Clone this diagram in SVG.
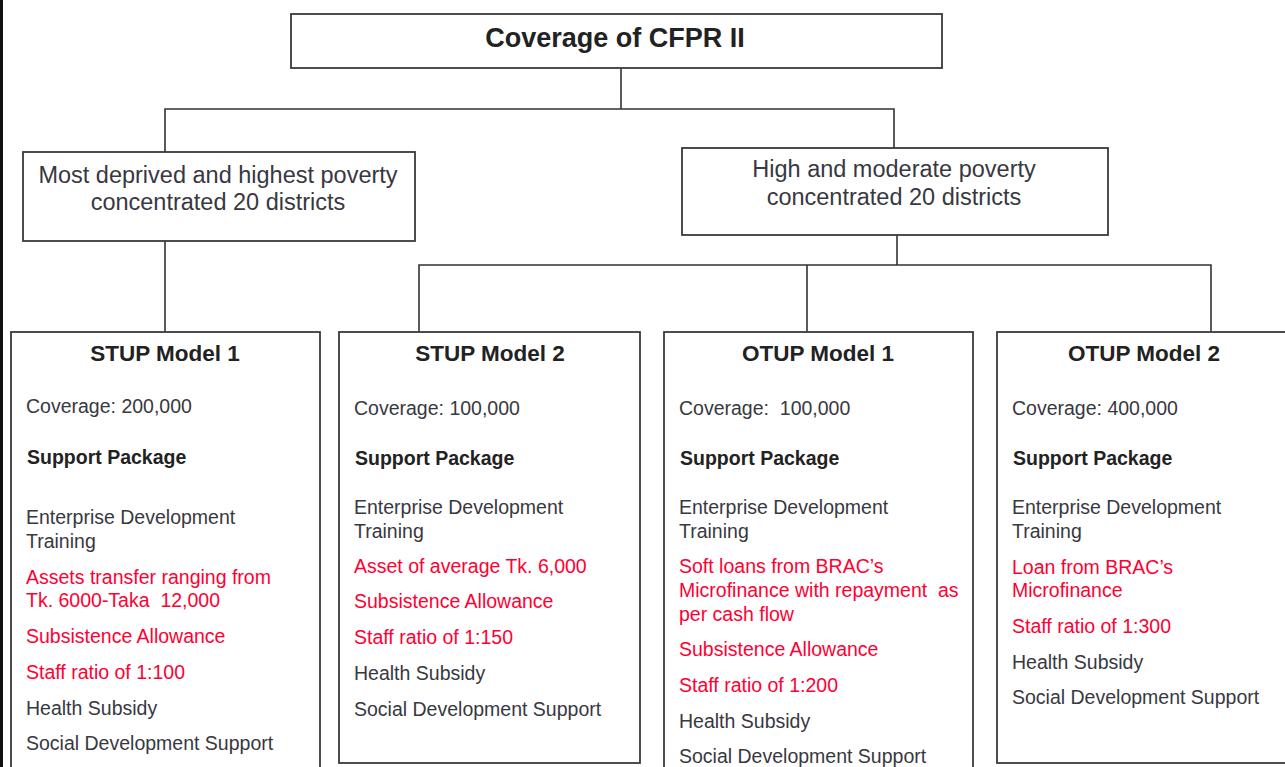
<svg xmlns="http://www.w3.org/2000/svg" width="1285" height="767" viewBox="0 0 1285 767">
<style>
.box{fill:#fff;stroke:#3a3a3a;stroke-width:1.8}
.con{fill:none;stroke:#333;stroke-width:1.6}
text{font-family:"Liberation Sans",Arial,sans-serif;fill:#38383f}
.title{font-size:27px;font-weight:bold;text-anchor:middle;fill:#222}
.mid{font-size:23.5px;text-anchor:middle}
.head{font-size:22.5px;font-weight:bold;text-anchor:middle;fill:#222}
.sp{font-size:19.5px;font-weight:bold;fill:#222}
.t{font-size:19.5px}
.r{fill:#ff0033}
</style>
<rect x="0" y="0" width="1285" height="767" fill="#fff"/>
<line x1="1.5" y1="0" x2="1.5" y2="767" stroke="#111" stroke-width="3"/>
<g id="connectors">
<path class="con" d="M621 68V109M165 152V109H894V148"/>
<path class="con" d="M165 241V332"/>
<path class="con" d="M897 235V265M419 332V265H1211V332M807 265V332"/>
</g>
<g id="root">
<rect class="box" x="291" y="14" width="651" height="54"/>
<text class="title" x="615" y="47">Coverage of CFPR II</text>
</g>
<g id="most-deprived">
<rect class="box" x="23" y="152" width="392" height="89"/>
<text class="mid" x="218" y="183">Most deprived and highest poverty</text>
<text class="mid" x="218" y="210">concentrated 20 districts</text>
</g>
<g id="high-moderate">
<rect class="box" x="682" y="148" width="426" height="87"/>
<text class="mid" x="894" y="177">High and moderate poverty</text>
<text class="mid" x="894" y="205">concentrated 20 districts</text>
</g>
<g id="stup1">
<rect class="box" x="11" y="332" width="309" height="450"/>
<text class="head" x="165" y="361">STUP Model 1</text>
<text class="t" x="26" y="413">Coverage: 200,000</text>
<text class="sp" x="27" y="464">Support Package</text>
<text class="t" x="26" y="524">Enterprise Development</text>
<text class="t" x="26" y="548">Training</text>
<text class="t r" x="26" y="584">Assets transfer ranging from</text>
<text class="t r" x="26" y="607" xml:space="preserve">Tk. 6000-Taka  12,000</text>
<text class="t r" x="26" y="643">Subsistence Allowance</text>
<text class="t r" x="26" y="679">Staff ratio of 1:100</text>
<text class="t" x="26" y="715">Health Subsidy</text>
<text class="t" x="26" y="750">Social Development Support</text>
</g>
<g id="stup2">
<rect class="box" x="339" y="332" width="301" height="431"/>
<text class="head" x="490" y="361">STUP Model 2</text>
<text class="t" x="354" y="415">Coverage: 100,000</text>
<text class="sp" x="355" y="465">Support Package</text>
<text class="t" x="354" y="514">Enterprise Development</text>
<text class="t" x="354" y="538">Training</text>
<text class="t r" x="354" y="573">Asset of average Tk. 6,000</text>
<text class="t r" x="354" y="608">Subsistence Allowance</text>
<text class="t r" x="354" y="644">Staff ratio of 1:150</text>
<text class="t" x="354" y="680">Health Subsidy</text>
<text class="t" x="354" y="716">Social Development Support</text>
</g>
<g id="otup1">
<rect class="box" x="664" y="332" width="309" height="450"/>
<text class="head" x="818" y="361">OTUP Model 1</text>
<text class="t" x="679" y="415" xml:space="preserve">Coverage:  100,000</text>
<text class="sp" x="680" y="465">Support Package</text>
<text class="t" x="679" y="514">Enterprise Development</text>
<text class="t" x="679" y="538">Training</text>
<text class="t r" x="679" y="573">Soft loans from BRAC’s</text>
<text class="t r" x="679" y="597" xml:space="preserve">Microfinance with repayment  as</text>
<text class="t r" x="679" y="621">per cash flow</text>
<text class="t r" x="679" y="656">Subsistence Allowance</text>
<text class="t r" x="679" y="692">Staff ratio of 1:200</text>
<text class="t" x="679" y="728">Health Subsidy</text>
<text class="t" x="679" y="763">Social Development Support</text>
</g>
<g id="otup2">
<rect class="box" x="997" y="332" width="296" height="431"/>
<text class="head" x="1144" y="361">OTUP Model 2</text>
<text class="t" x="1012" y="415">Coverage: 400,000</text>
<text class="sp" x="1013" y="465">Support Package</text>
<text class="t" x="1012" y="514">Enterprise Development</text>
<text class="t" x="1012" y="538">Training</text>
<text class="t r" x="1012" y="574">Loan from BRAC’s</text>
<text class="t r" x="1012" y="597">Microfinance</text>
<text class="t r" x="1012" y="633">Staff ratio of 1:300</text>
<text class="t" x="1012" y="669">Health Subsidy</text>
<text class="t" x="1012" y="704">Social Development Support</text>
</g>
</svg>
